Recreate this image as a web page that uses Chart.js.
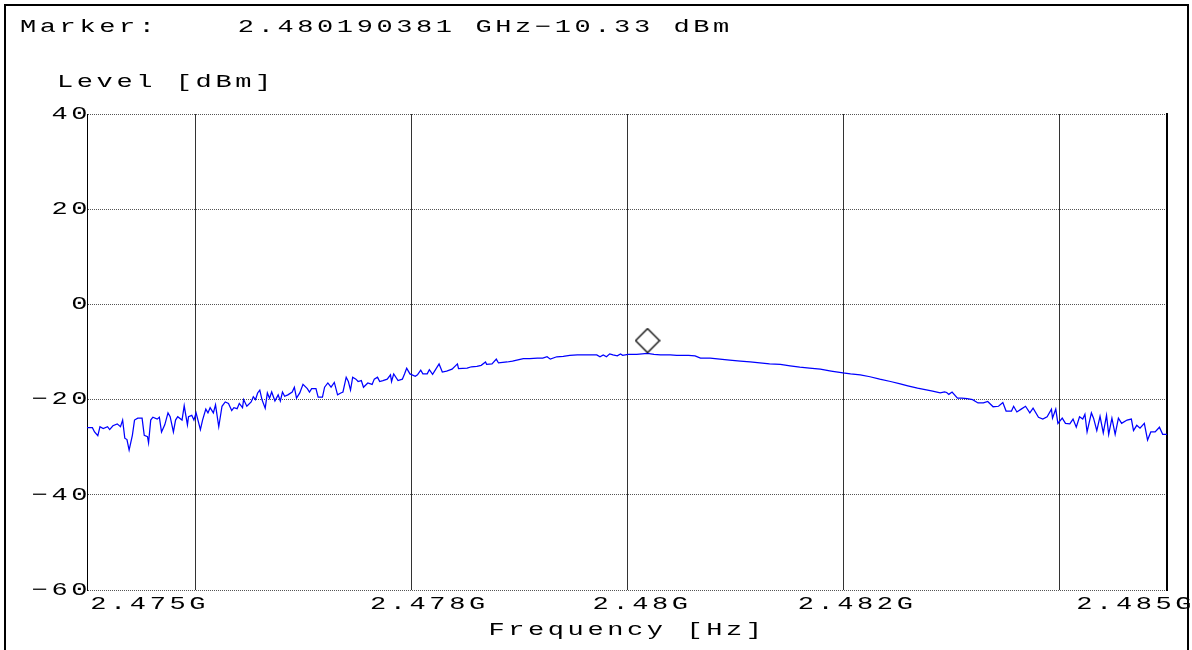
<!DOCTYPE html>
<html>
<head>
<meta charset="utf-8">
<title>Marker level</title>
<script src="https://cdn.jsdelivr.net/npm/chart.js@4.4.1/dist/chart.umd.min.js"></script>
<style>
    html, body { margin: 0; padding: 0; background: #fff; overflow: hidden; }
    #wrap { position: relative; width: 1192px; height: 650px; overflow: hidden; }
    #frame {
        position: absolute; left: 4px; top: 4px; width: 1181px; height: 700px;
        border: 2px solid #000; pointer-events: none;
    }
</style>
</head>
<body>
<div id="wrap">
    <canvas id="spectrum" width="1230" height="650"></canvas>
    <div id="frame"></div>
</div>
<script>
// Trace (frequency in MHz, level in dBm)
const traceFreq = [
    2475.00, 2475.05, 2475.07, 2475.10, 2475.12, 2475.15, 2475.19, 2475.21, 2475.24, 2475.28,
    2475.31, 2475.33, 2475.35, 2475.37, 2475.39, 2475.42, 2475.44, 2475.47, 2475.51, 2475.53,
    2475.56, 2475.57, 2475.59, 2475.61, 2475.65, 2475.67, 2475.69, 2475.72, 2475.75, 2475.77,
    2475.80, 2475.82, 2475.84, 2475.88, 2475.90, 2475.93, 2475.94, 2475.97, 2475.99, 2476.01,
    2476.05, 2476.07, 2476.10, 2476.12, 2476.14, 2476.17, 2476.19, 2476.22, 2476.25, 2476.28,
    2476.31, 2476.34, 2476.36, 2476.39, 2476.41, 2476.44, 2476.45, 2476.48, 2476.52, 2476.54,
    2476.56, 2476.58, 2476.60, 2476.62, 2476.65, 2476.67, 2476.69, 2476.71, 2476.74, 2476.77,
    2476.79, 2476.81, 2476.83, 2476.86, 2476.90, 2476.92, 2476.94, 2476.97, 2477.00, 2477.04,
    2477.06, 2477.08, 2477.12, 2477.14, 2477.18, 2477.20, 2477.23, 2477.26, 2477.29, 2477.32,
    2477.35, 2477.37, 2477.40, 2477.42, 2477.44, 2477.46, 2477.49, 2477.51, 2477.54, 2477.56,
    2477.60, 2477.64, 2477.66, 2477.69, 2477.71, 2477.74, 2477.78, 2477.81, 2477.82, 2477.84,
    2477.88, 2477.92, 2477.94, 2477.96, 2477.99, 2478.01, 2478.04, 2478.06, 2478.09, 2478.11,
    2478.15, 2478.17, 2478.20, 2478.26, 2478.29, 2478.33, 2478.38, 2478.43, 2478.44, 2478.52,
    2478.56, 2478.61, 2478.65, 2478.69, 2478.70, 2478.75, 2478.79, 2478.81, 2478.85, 2478.89,
    2478.94, 2478.98, 2479.04, 2479.10, 2479.17, 2479.22, 2479.26, 2479.29, 2479.35, 2479.41,
    2479.47, 2479.54, 2479.59, 2479.66, 2479.72, 2479.75, 2479.78, 2479.81, 2479.84, 2479.87,
    2479.91, 2479.94, 2479.96, 2480.01, 2480.06, 2480.09, 2480.14, 2480.19, 2480.25, 2480.31,
    2480.35, 2480.40, 2480.46, 2480.52, 2480.57, 2480.63, 2480.68, 2480.72, 2480.77, 2480.86,
    2480.95, 2481.05, 2481.14, 2481.23, 2481.32, 2481.42, 2481.51, 2481.60, 2481.69, 2481.79,
    2481.89, 2482.00, 2482.07, 2482.16, 2482.25, 2482.34, 2482.44, 2482.53, 2482.60, 2482.69,
    2482.76, 2482.83, 2482.90, 2482.94, 2482.96, 2482.98, 2483.01, 2483.06, 2483.10, 2483.15,
    2483.20, 2483.25, 2483.30, 2483.34, 2483.39, 2483.44, 2483.48, 2483.51, 2483.56, 2483.58,
    2483.61, 2483.65, 2483.69, 2483.73, 2483.76, 2483.81, 2483.85, 2483.89, 2483.93, 2483.94,
    2483.97, 2483.99, 2484.03, 2484.06, 2484.10, 2484.13, 2484.16, 2484.19, 2484.22, 2484.24,
    2484.26, 2484.30, 2484.32, 2484.35, 2484.38, 2484.41, 2484.44, 2484.46, 2484.49, 2484.52,
    2484.55, 2484.58, 2484.63, 2484.67, 2484.69, 2484.72, 2484.75, 2484.79, 2484.82, 2484.85,
    2484.89, 2484.93, 2484.96, 2485.00
];
const traceLevel = [
    -25.9, -25.9, -26.8, -27.6, -25.7, -26.1, -25.7, -26.3, -25.5, -25.1,
    -25.7, -24.3, -28.1, -28.4, -30.6, -27.5, -24.3, -23.9, -23.9, -27.5,
    -27.8, -29.1, -24.3, -23.7, -24.1, -23.7, -26.8, -25.3, -22.8, -23.6,
    -26.8, -24.3, -23.6, -24.3, -21.3, -25.3, -23.6, -23.3, -24.3, -22.8,
    -26.3, -24.3, -22.0, -22.8, -21.7, -22.8, -21.1, -25.7, -21.4, -20.5,
    -20.8, -22.3, -21.7, -21.9, -20.8, -21.7, -20.0, -21.4, -20.5, -19.4,
    -20.0, -18.6, -18.0, -20.0, -21.8, -18.6, -19.7, -18.4, -20.3, -19.0,
    -20.3, -18.4, -19.3, -19.0, -18.4, -17.4, -19.7, -18.6, -16.8, -17.7,
    -18.4, -17.7, -17.7, -19.5, -19.5, -17.4, -16.5, -17.4, -16.4, -19.0,
    -18.6, -18.4, -15.3, -16.2, -18.0, -15.3, -15.7, -16.2, -16.0, -17.4,
    -16.5, -16.8, -15.7, -15.3, -16.2, -16.0, -15.7, -14.8, -16.2, -14.6,
    -16.0, -15.7, -14.6, -13.4, -14.6, -14.8, -15.1, -14.8, -13.8, -14.6,
    -14.6, -13.7, -14.7, -12.5, -14.2, -14.0, -13.6, -12.5, -13.5, -13.4,
    -13.1, -13.0, -12.8, -12.1, -12.6, -12.5, -11.5, -12.3, -12.2, -12.1,
    -11.9, -11.7, -11.4, -11.4, -11.3, -11.3, -11.0, -11.5, -11.0, -10.9,
    -10.7, -10.6, -10.6, -10.6, -10.6, -11.0, -10.6, -11.0, -10.4, -10.6,
    -10.8, -10.4, -10.7, -10.5, -10.5, -10.5, -10.4, -10.3, -10.5, -10.6,
    -10.6, -10.6, -10.7, -10.7, -10.7, -10.8, -11.3, -11.3, -11.3, -11.5,
    -11.7, -11.9, -12.1, -12.3, -12.5, -12.6, -12.9, -13.2, -13.4, -13.6,
    -14.0, -14.4, -14.6, -14.8, -15.2, -15.7, -16.2, -16.7, -17.1, -17.6,
    -17.9, -18.2, -18.6, -18.4, -18.5, -18.9, -18.4, -19.7, -19.7, -19.8,
    -20.0, -20.7, -20.7, -20.4, -21.5, -21.4, -20.6, -22.4, -22.4, -21.4,
    -22.6, -22.0, -21.4, -22.8, -21.8, -23.7, -24.1, -23.6, -22.0, -23.9,
    -22.0, -25.0, -23.9, -25.0, -25.1, -24.1, -25.8, -23.6, -24.1, -23.1,
    -26.8, -22.8, -23.9, -26.5, -23.5, -27.0, -23.3, -27.3, -23.9, -27.3,
    -23.9, -25.0, -24.3, -24.1, -26.5, -25.4, -26.0, -25.0, -28.5, -26.8,
    -26.8, -25.8, -27.3, -27.3
];

// Marker readout
const markerFreq = [2480.190381];   // MHz
const markerLevel = [-10.33];       // dBm

// Axes
const freqRange = [2475, 2485];
const levelRange = [-60, 40];
const xGridFreqs = [2476, 2478, 2480, 2482, 2484];
const xTickAt = [2475.58, 2478.17, 2480.14, 2482.13, 2484.71];
const xTickLabels = ['2.475G', '2.478G', '2.48G', '2.482G', '2.485G'];
const yTickValues = [-60, -40, -20, 0, 20, 40];

const FONT_FAMILY = "'Liberation Mono', 'Courier New', monospace";
const FONT_SIZE = 18;
const LETTER_SPACING = '2.4px';
const TEXT_STRETCH = 1.5;   // the instrument font is wide

const minus = (s) => String(s).replace('-', '\u2212');

// stretch every string drawn on this context horizontally around its anchor,
// so left/center/right alignment keeps working
function stretchText(ctx, sx) {
    const fill = ctx.fillText.bind(ctx);
    ctx.fillText = function (text, x, y, maxWidth) {
        ctx.save();
        ctx.translate(x, y);
        ctx.scale(sx, 1);
        if (maxWidth !== undefined) fill(text, 0, 0, maxWidth / sx);
        else fill(text, 0, 0);
        ctx.restore();
    };
}

function makeDiamond(size) {
    // the diamond sits above the data point, its lower tip on the trace
    const c = document.createElement('canvas');
    c.width = size + 2;
    c.height = (size + 2) * 2;
    const g = c.getContext('2d');
    const h = size / 2 + 1;
    g.beginPath();
    g.moveTo(h, 1);
    g.lineTo(size + 1, h);
    g.lineTo(h, size + 1);
    g.lineTo(1, h);
    g.closePath();
    g.fillStyle = '#fff';
    g.fill();
    g.strokeStyle = '#000';
    g.lineWidth = 1.3;
    g.stroke();
    return c;
}

const textPlugin = {
    id: 'analyzerText',
    beforeLayout(chart) { chart.ctx.letterSpacing = LETTER_SPACING; },
    beforeDraw(chart) { chart.ctx.letterSpacing = LETTER_SPACING; },
    afterDraw(chart) {
        const ctx = chart.ctx;
        const markerText = 'Marker:    ' + (markerFreq[0] / 1000).toFixed(9) + ' GHz'
            + minus(markerLevel[0].toFixed(2)) + ' dBm';
        ctx.save();
        ctx.letterSpacing = LETTER_SPACING;
        ctx.font = FONT_SIZE + 'px ' + FONT_FAMILY;
        ctx.fillStyle = '#000';
        ctx.textAlign = 'left';
        ctx.textBaseline = 'alphabetic';
        ctx.fillText(markerText, 20, 32);
        ctx.fillText('Level [dBm]', 57, 87);
        ctx.restore();
    }
};

const font = { family: FONT_FAMILY, size: FONT_SIZE, lineHeight: 1.2 };

const ctx = document.getElementById('spectrum').getContext('2d');
stretchText(ctx, TEXT_STRETCH);

new Chart(ctx, {
    type: 'line',
    data: {
        datasets: [{
            data: traceFreq.map((f, i) => ({ x: f, y: traceLevel[i] })),
            borderColor: '#0000ff',
            borderWidth: 1.25,
            pointRadius: 0,
            tension: 0,
            xAxisID: 'x',
            yAxisID: 'y',
            order: 2
        }, {
            data: markerFreq.map((f, i) => ({ x: f, y: markerLevel[i] })),
            showLine: false,
            pointStyle: makeDiamond(24),
            pointRadius: 12,
            xAxisID: 'x',
            yAxisID: 'y',
            order: 1
        }]
    },
    options: {
        responsive: false,
        animation: false,
        devicePixelRatio: 1,
        events: [],
        layout: { padding: { left: 0, top: 114, right: 63, bottom: 0 } },
        plugins: {
            legend: { display: false },
            tooltip: { enabled: false }
        },
        scales: {
            x: {
                type: 'linear',
                position: 'bottom',
                min: freqRange[0],
                max: freqRange[1],
                afterBuildTicks: (axis) => { axis.ticks = xGridFreqs.map(v => ({ value: v })); },
                afterFit: (axis) => { axis.height = 0; },
                grid: { color: '#333', lineWidth: 1, drawTicks: false },
                border: { display: false },
                ticks: { display: false }
            },
            x2: {
                type: 'linear',
                position: 'bottom',
                min: freqRange[0],
                max: freqRange[1],
                afterBuildTicks: (axis) => { axis.ticks = xTickAt.map(v => ({ value: v })); },
                afterFit: (axis) => { axis.height = 60; },
                grid: { display: false, drawTicks: false },
                border: { display: false },
                ticks: {
                    color: '#000',
                    font: font,
                    padding: 3,
                    autoSkip: false,
                    maxRotation: 0,
                    minRotation: 0,
                    callback: (v, i) => xTickLabels[i]
                },
                title: {
                    display: true,
                    text: 'Frequency [Hz]',
                    color: '#000',
                    font: font,
                    padding: { top: 0, bottom: 9 }
                }
            },
            y: {
                type: 'linear',
                position: 'left',
                min: levelRange[0],
                max: levelRange[1],
                afterBuildTicks: (axis) => { axis.ticks = yTickValues.map(v => ({ value: v })); },
                afterFit: (axis) => { axis.width = 87; },
                grid: { color: '#555', lineWidth: 1, drawTicks: false },
                border: { display: true, color: '#000', width: 1, dash: [1, 1] },
                ticks: {
                    color: '#000',
                    font: font,
                    padding: -4,
                    callback: (v) => minus(v)
                }
            },
            y2: {
                type: 'linear',
                position: 'right',
                min: levelRange[0],
                max: levelRange[1],
                afterFit: (axis) => { axis.width = 0; },
                grid: { display: false, drawTicks: false },
                border: { display: true, color: '#000', width: 2 },
                ticks: { display: false }
            }
        }
    },
    plugins: [textPlugin]
});
</script>
</body>
</html>
